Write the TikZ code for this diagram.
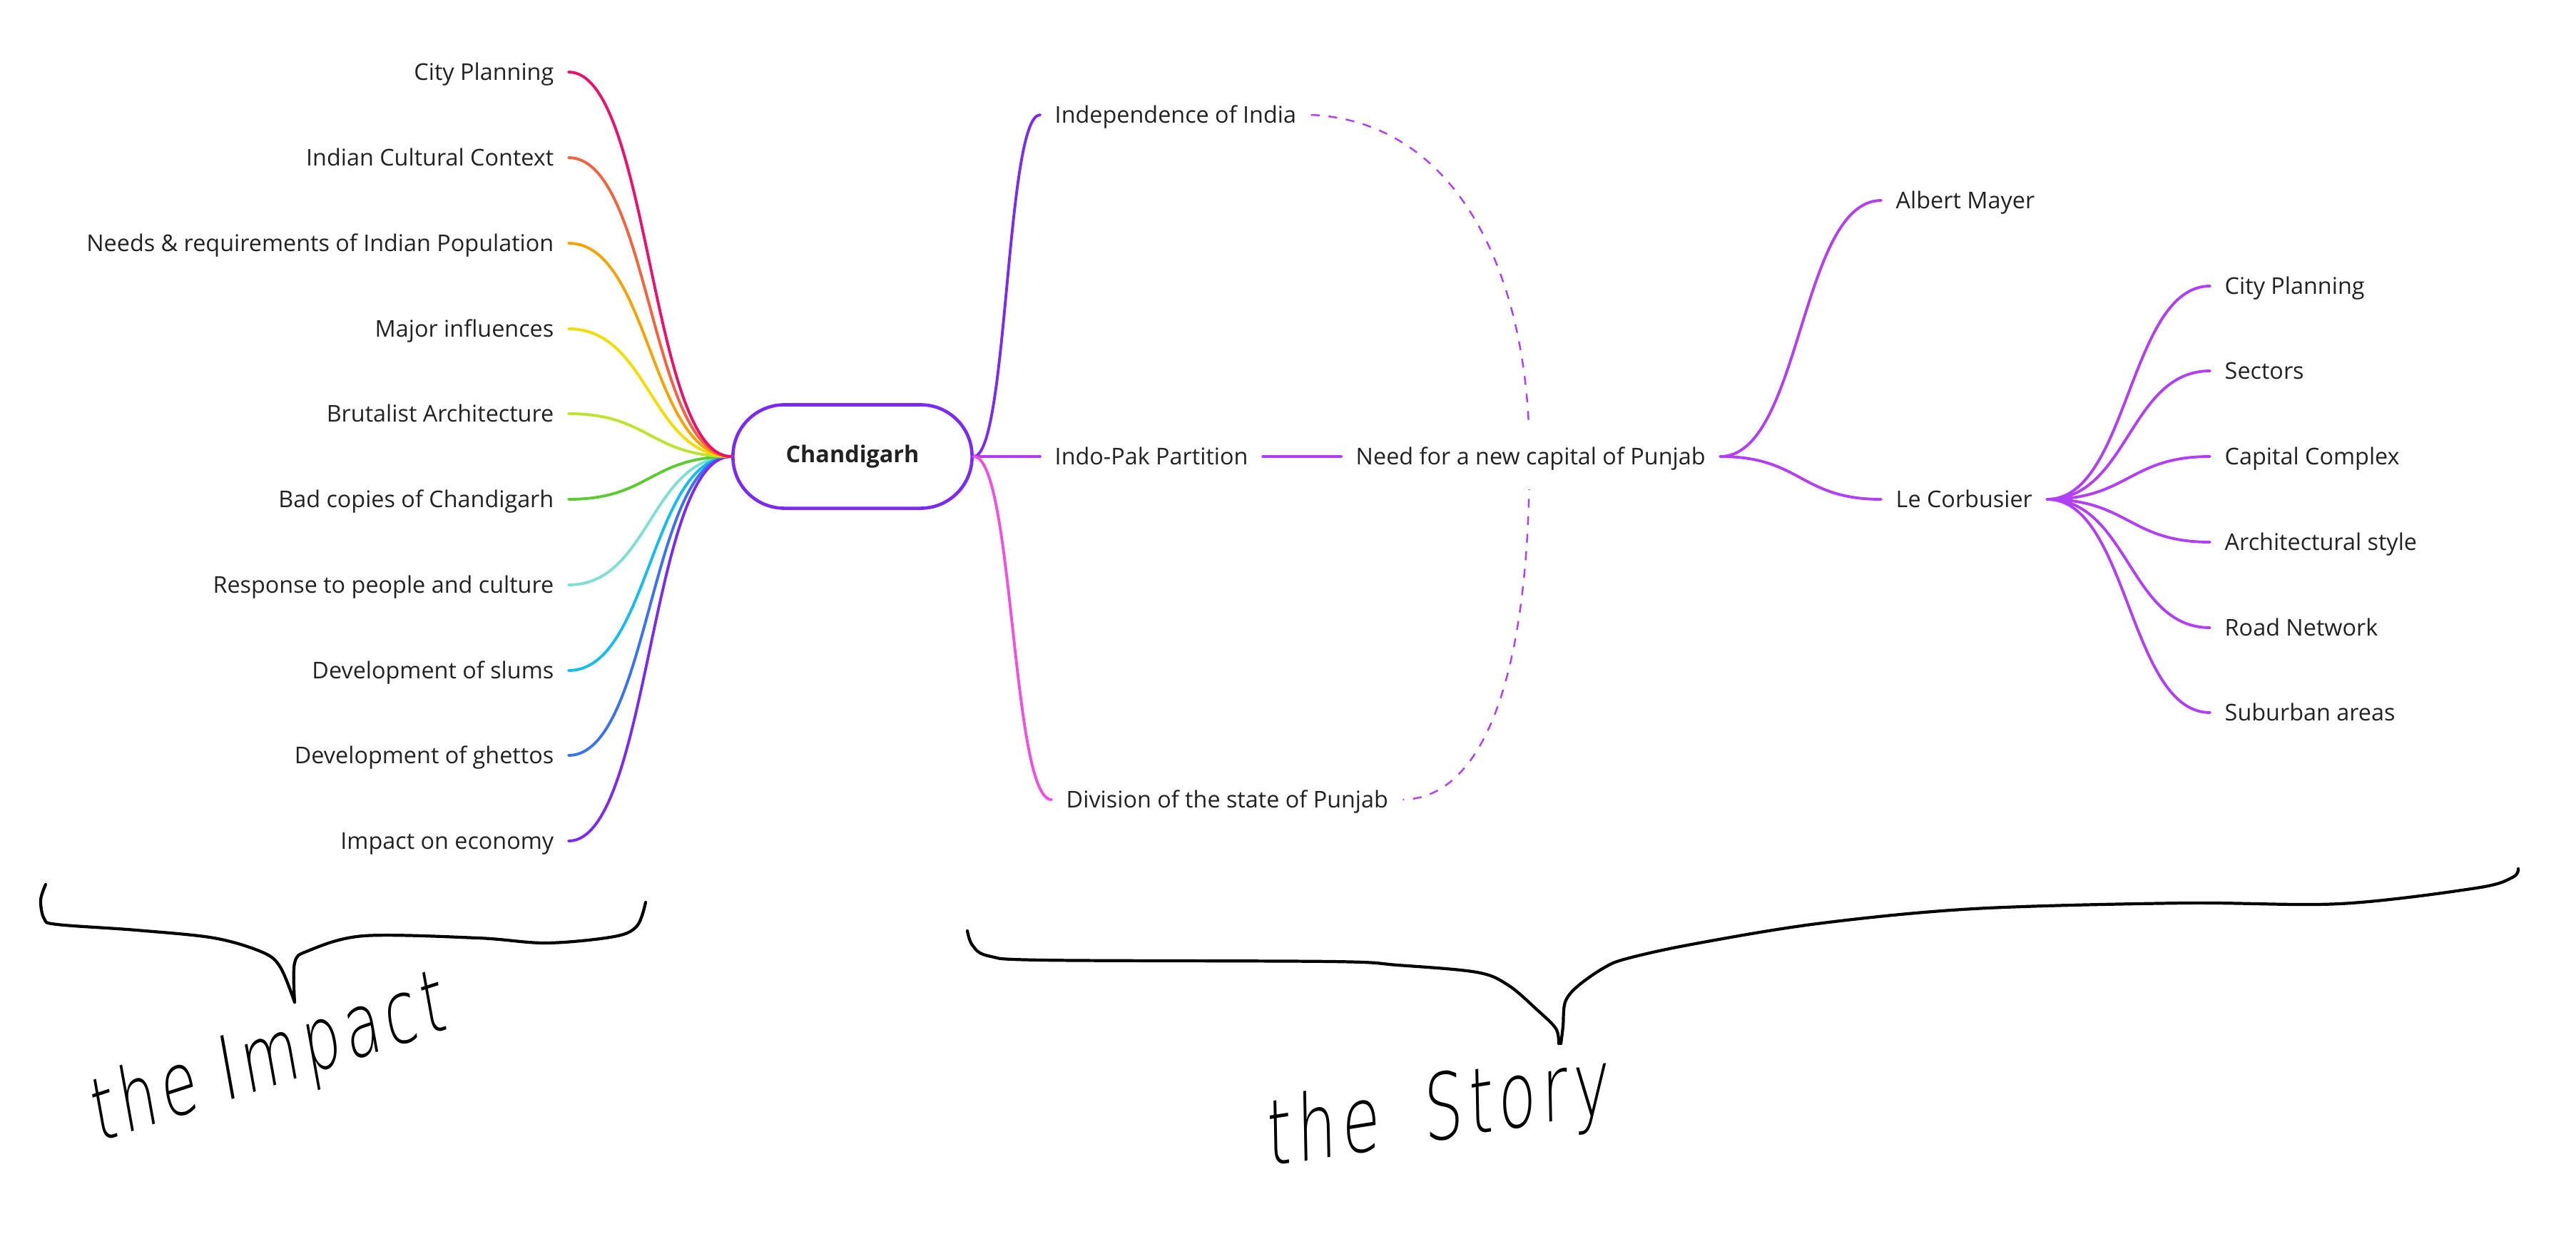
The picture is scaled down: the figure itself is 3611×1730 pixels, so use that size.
\documentclass[tikz,border=0pt]{standalone}
\usepackage{fontspec}
\setmainfont{Open Sans}
\newfontfamily\handfont[FakeSlant=0.2, LetterSpace=9]{DejaVu Sans ExtraLight}
\usepackage{tikz}
\usetikzlibrary{backgrounds}
\usepackage{xcolor}
\definecolor{ink}{HTML}{222222}
\definecolor{rose}{HTML}{EB0F6E}
\definecolor{coral}{HTML}{F2633E}
\definecolor{amber}{HTML}{F5A300}
\definecolor{sun}{HTML}{F5DC00}
\definecolor{lime}{HTML}{BCE42C}
\definecolor{grass}{HTML}{5CCB30}
\definecolor{mint}{HTML}{7EDFD2}
\definecolor{sky}{HTML}{15BCF2}
\definecolor{royal}{HTML}{3A72F2}
\definecolor{grape}{HTML}{7B2AF2}
\definecolor{orchid}{HTML}{B23EF5}
\definecolor{fuchsia}{HTML}{F24EE0}

\begin{document}
\begin{tikzpicture}[x=0.01cm, y=-0.01cm,
  root/.style={draw=grape, line width=1.3pt, rounded corners=0.72cm, minimum width=3.35cm, minimum height=1.45cm, text=ink, font=\fontsize{9.2}{11}\selectfont\bfseries},
  leaf/.style={inner xsep=0.2cm, inner ysep=0.08cm, text height=0.23cm, text depth=0pt, text=ink, font=\fontsize{9.2}{11}\selectfont},
  link/.style={line width=1.1pt, line cap=round},
  tol/.style={out=180, in=0, out distance=1.14cm, in distance=1.14cm},
  tor/.style={out=0, in=180, out distance=#1, in distance=#1},
  tor/.default=1.14cm,
  brace/.style={line width=1.2pt, line cap=round, line join=round},
  hand/.style={text=black, inner sep=0pt, font=\handfont\fontsize{#1}{28}\selectfont},
  hand/.default=24
]
\useasboundingbox (0,0) rectangle (3611,1730);

% centre
\node[root] (chd) at (1195,640) {Chandigarh};

% the impact
\node[leaf, anchor=east] (plan) at (797,101) {City Planning};
\node[leaf, anchor=east] (ctx) at (797,221) {Indian Cultural Context};
\node[leaf, anchor=east] (needs) at (797,341) {Needs \& requirements of Indian Population};
\node[leaf, anchor=east] (infl) at (797,461) {Major influences};
\node[leaf, anchor=east] (brut) at (797,580) {Brutalist Architecture};
\node[leaf, anchor=east] (copies) at (797,700) {Bad copies of Chandigarh};
\node[leaf, anchor=east] (resp) at (797,820) {Response to people and culture};
\node[leaf, anchor=east] (slums) at (797,940) {Development of slums};
\node[leaf, anchor=east] (ghetto) at (797,1059) {Development of ghettos};
\node[leaf, anchor=east] (econ) at (797,1179) {Impact on economy};

\draw[link, mint] (chd.west) to[tol] (resp.east);
\draw[link, sky] (chd.west) to[tol] (slums.east);
\draw[link, royal] (chd.west) to[tol] (ghetto.east);
\draw[link, grape] (chd.west) to[tol] (econ.east);
\draw[link, grass] (chd.west) to[tol] (copies.east);
\draw[link, lime] (chd.west) to[tol] (brut.east);
\draw[link, sun] (chd.west) to[tol] (infl.east);
\draw[link, amber] (chd.west) to[tol] (needs.east);
\draw[link, coral] (chd.west) to[tol] (ctx.east);
\draw[link, rose] (chd.west) to[tol] (plan.east);

% the story
\node[leaf, anchor=west] (indep) at (1458,161) {Independence of India};
\node[leaf, anchor=west] (indo) at (1458,640) {Indo-Pak Partition};
\node[leaf, anchor=west] (divn) at (1474,1121) {Division of the state of Punjab};
\node[leaf, anchor=west, fill=white, inner ysep=0.34cm] (capital) at (1880,640) {Need for a new capital of Punjab};
\node[leaf, anchor=west] (mayer) at (2637,281) {Albert Mayer};
\node[leaf, anchor=west] (corb) at (2637,700) {Le Corbusier};
\node[leaf, anchor=west] (cplan) at (3098,401) {City Planning};
\node[leaf, anchor=west] (sect) at (3098,520) {Sectors};
\node[leaf, anchor=west] (cplx) at (3098,640) {Capital Complex};
\node[leaf, anchor=west] (archi) at (3098,760) {Architectural style};
\node[leaf, anchor=west] (roads) at (3098,880) {Road Network};
\node[leaf, anchor=west] (suburb) at (3098,999) {Suburban areas};

\draw[link, grape] (chd.east) to[tor=0.48cm] (indep.west);
\draw[link, orchid] (chd.east) -- (indo.west);
\draw[link, fuchsia] (chd.east) to[tor=0.56cm] (divn.west);
\draw[link, orchid] (indo.east) -- (capital.west);
\draw[link, orchid] (capital.east) to[tor] (mayer.west);
\draw[link, orchid] (capital.east) to[tor] (corb.west);
\draw[link, orchid] (corb.east) to[tor] (cplan.west);
\draw[link, orchid] (corb.east) to[tor] (sect.west);
\draw[link, orchid] (corb.east) to[tor] (cplx.west);
\draw[link, orchid] (corb.east) to[tor] (archi.west);
\draw[link, orchid] (corb.east) to[tor] (roads.west);
\draw[link, orchid] (corb.east) to[tor] (suburb.west);

\begin{scope}[on background layer]
\draw[orchid, line width=0.7pt, dash pattern=on 3.5pt off 3.5pt] (indep.east) .. controls (2040,170) and (2144,380) .. (2144,640) .. controls (2144,960) and (2075,1119) .. (divn.east);
\end{scope}

% hand drawn braces
\draw[brace] plot[smooth, tension=0.55] coordinates {(64,1240) (57,1262) (62,1288) (80,1296) (191,1304) (300,1315) (368,1335) (393,1356) (413,1405)};
\draw[brace] plot[smooth, tension=0.55] coordinates {(413,1405) (413,1350) (432,1333) (510,1312) (670,1315) (766,1322) (861,1313) (893,1298) (905,1265)};
\draw[brace] plot[smooth, tension=0.55] coordinates {(1356,1305) (1363,1325) (1385,1340) (1461,1346) (1866,1348) (1959,1353) (2070,1363) (2114,1381) (2155,1416) (2181,1442) (2185,1463)};
\draw[brace] plot[smooth, tension=0.55] coordinates {(2188,1463) (2191,1439) (2194,1405) (2211,1383) (2248,1357) (2280,1344) (2371,1324) (2547,1295) (2767,1274) (3060,1266) (3280,1267) (3471,1245) (3522,1230) (3530,1218)};

\node[hand, rotate=18] (impact) at (373,1490) {\scalebox{1}[1.45]{the Impact}};
\node[hand=25, rotate=9] (story) at (2012,1562) {\scalebox{1}[1.45]{the\hspace{0.3em} Story}};
\end{tikzpicture}
\end{document}
